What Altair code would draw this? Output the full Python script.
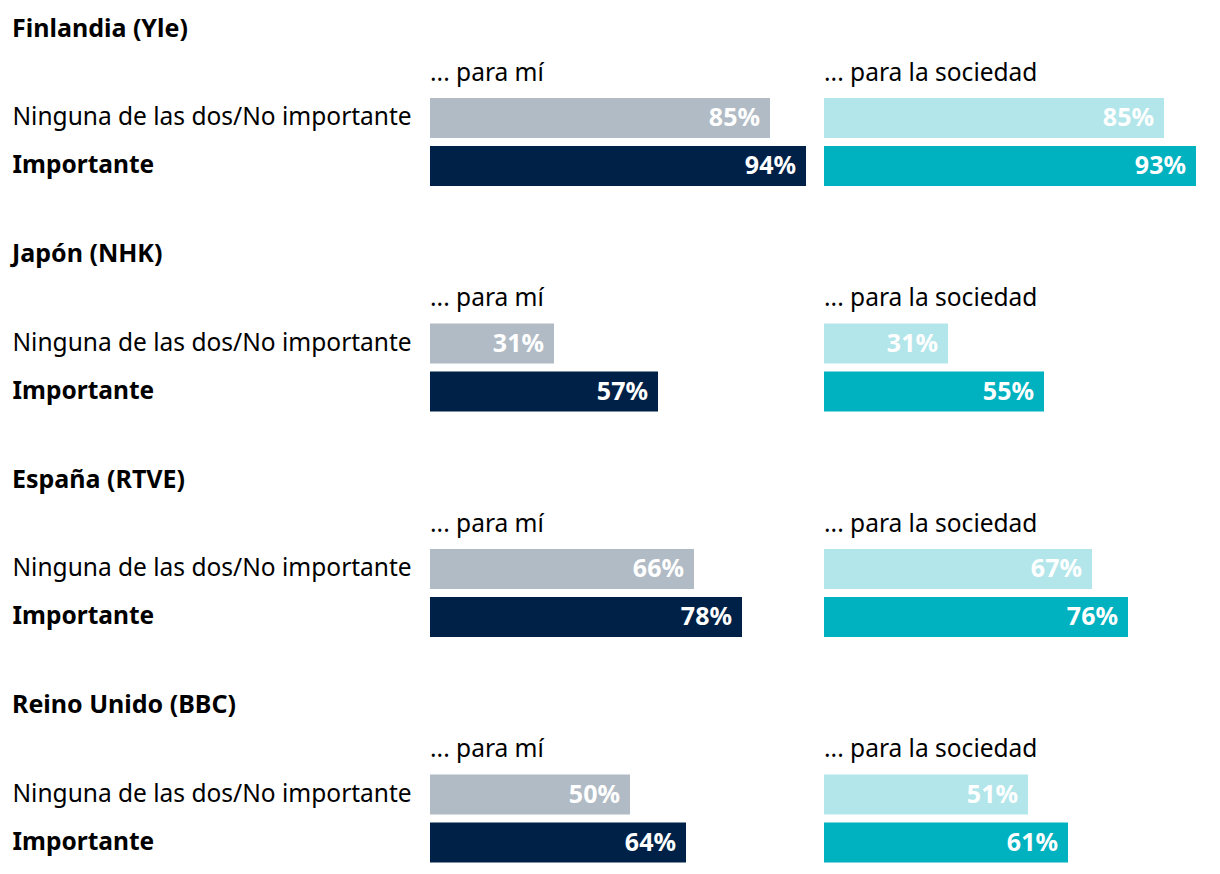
import altair as alt
import pandas as pd

countries = ["Finlandia (Yle)", "Japón (NHK)", "España (RTVE)", "Reino Unido (BBC)"]
categories = ["Ninguna de las dos/No importante", "Importante"]
panels = ["... para mí", "... para la sociedad"]
para_mi_no = [85, 31, 66, 50]
para_mi_imp = [94, 57, 78, 64]
sociedad_no = [85, 31, 67, 51]
sociedad_imp = [93, 55, 76, 61]

colors_mi = ["#b1bbc5", "#002147"]
colors_soc = ["#b3e6ea", "#00b2bf"]

FONT = "Noto Sans"
FS = 24.5
FSB = 25


def panel(values, colors, title, show_axis, width, xmax):
    df = pd.DataFrame({
        "cat": categories,
        "value": values,
        "color": colors,
        "label": [f"{v}%" for v in values],
    })
    if show_axis:
        yaxis = alt.Axis(
            title=None, labelAlign="left", labelPadding=418, ticks=False,
            domain=False, labelFontSize=FS, labelColor="#000000", labelFont=FONT,
            labelFontWeight=alt.ExprRef(expr="datum.value == 'Importante' ? 'bold' : 'normal'"),
            labelLimit=0,
        )
    else:
        yaxis = None
    base = alt.Chart(df).encode(
        y=alt.Y("cat:N", sort=categories, axis=yaxis,
                scale=alt.Scale(paddingInner=8 / 48, paddingOuter=0)),
        x=alt.X("value:Q", scale=alt.Scale(domain=[0, xmax], nice=False), axis=None),
    )
    bars = base.mark_bar().encode(color=alt.Color("color:N", scale=None))
    text = base.mark_text(align="right", dx=-10, color="white", fontWeight="bold",
                          fontSize=FSB, font=FONT).encode(text="label:N")
    return alt.layer(bars, text).properties(
        width=width, height=88,
        title=alt.TitleParams(title, anchor="start", frame="group", fontSize=FS,
                              fontWeight="normal", font=FONT, color="#000000", offset=12),
    )


rows = []
for i, c in enumerate(countries):
    left = panel([para_mi_no[i], para_mi_imp[i]], colors_mi, panels[0], True, 390, 97.5)
    right = panel([sociedad_no[i], sociedad_imp[i]], colors_soc, panels[1], False, 384, 96)
    rows.append(
        alt.hconcat(left, right, spacing=4).properties(
            title=alt.TitleParams(c, anchor="start", fontSize=FSB, fontWeight="bold",
                                  font=FONT, color="#000000", offset=19)
        )
    )

chart = alt.vconcat(*rows, spacing=55.5).properties(
    padding={"left": 4, "top": 8, "right": 0, "bottom": 0}
).configure_view(stroke=None).configure_concat(spacing=0)

chart.save("out.html", embed_options={"renderer": "svg", "actions": False})
